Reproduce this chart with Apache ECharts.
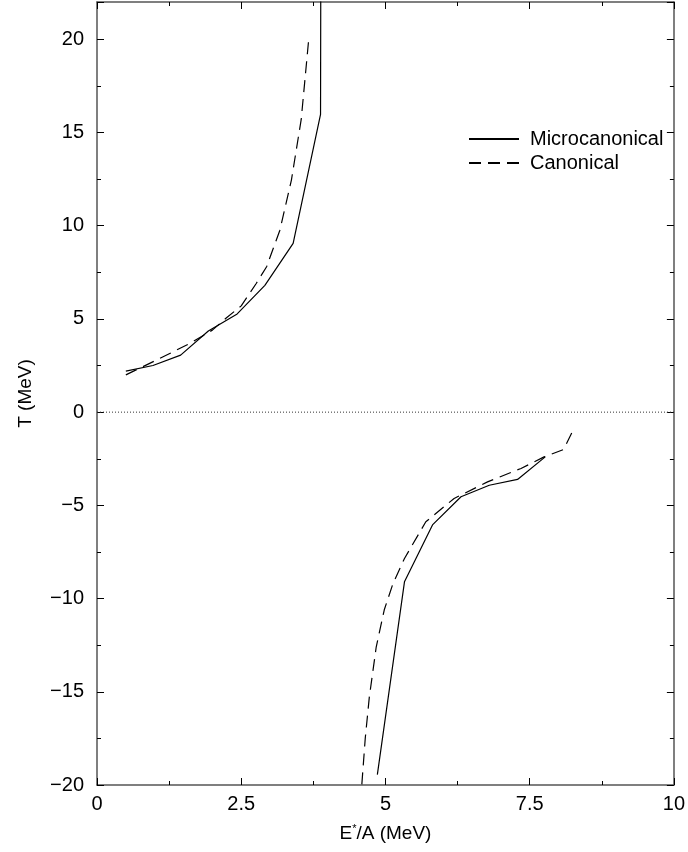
<!DOCTYPE html>
<html>
<head>
<meta charset="utf-8">
<script src="https://cdn.jsdelivr.net/npm/echarts@6/dist/echarts.min.js"></script>
<style>
    html, body { margin: 0; padding: 0; background: #fff; }
    #chart { width: 688px; height: 852px; }
</style>
</head>
<body>
<div id="chart"></div>
<script>
// 微正则 / 正则 温度曲线 (E*/A, T)
var microHigh = [[0.5, 2.2], [0.97, 2.5], [1.45, 3.06], [1.93, 4.35], [2.43, 5.27], [2.91, 6.8], [3.4, 9.05], [3.875, 15.97], [3.9, 60]];
var microLow = [[4.86, -19.44], [5.33, -9.1], [5.82, -6.03], [6.31, -4.54], [6.8, -3.92], [7.29, -3.61], [7.77, -2.4]];
var canonHigh = [[0.5, 2.0], [1.03, 2.79], [1.61, 3.69], [2.0, 4.4], [2.24, 5.05], [2.5, 5.7], [2.76, 6.9], [2.94, 7.8], [3.17, 9.76], [3.37, 12.45], [3.54, 15.7], [3.67, 20.0]];
var canonLow = [[4.55, -22], [4.59, -20], [4.65, -17.5], [4.72, -15.3], [4.84, -12.6], [4.98, -10.6], [5.13, -9.2], [5.33, -7.85], [5.7, -5.88], [6.19, -4.63], [6.77, -3.74], [7.35, -3.02], [7.75, -2.4], [8.09, -2.0], [8.24, -1.05]];
var zeroLine = [[0, 0], [10, 0]];
var xTicks = [0, 2.5, 5, 7.5, 10];
var seriesNames = ['Microcanonical', 'Canonical'];

var font = 'Liberation Sans, Arial, Helvetica, sans-serif';
var chart = echarts.init(document.getElementById('chart'));

function frameAxis(dim, pos, withLabels) {
    var ax = {
        type: 'value',
        position: pos,
        min: dim === 'x' ? 0 : -20,
        max: dim === 'x' ? 10 : 22,
        interval: dim === 'x' ? 2.5 : 5,
        splitLine: { show: false },
        axisLine: { show: true, onZero: false, lineStyle: { color: '#555', width: 1.5 } },
        axisTick: { show: true, inside: true, length: 7, lineStyle: { color: '#000', width: 1 } },
        minorTick: { show: true, splitNumber: 2, length: 4, lineStyle: { color: '#000', width: 1 } },
        axisLabel: {
            show: withLabels,
            showMaxLabel: dim === 'x',
            color: '#000',
            fontFamily: font,
            fontSize: 20,
            margin: dim === 'x' ? 9 : 13,
            formatter: function(v) {
                if (dim === 'x' && xTicks.indexOf(v) < 0) return '';
                return v < 0 ? '\u2212' + Math.abs(v) : String(v);
            }
        }
    };
    return ax;
}

var xBottom = frameAxis('x', 'bottom', true);
xBottom.name = 'E{sup|*}/A (MeV)';
xBottom.nameLocation = 'middle';
xBottom.nameGap = 38;
xBottom.nameTextStyle = {
    color: '#000', fontFamily: font, fontSize: 19,
    rich: { sup: { fontSize: 11, verticalAlign: 'top', padding: [0, 0, 10, 0], fontFamily: font, color: '#000' } }
};
var yLeft = frameAxis('y', 'left', true);
yLeft.name = 'T (MeV)';
yLeft.nameLocation = 'middle';
yLeft.nameGap = 62;
yLeft.nameTextStyle = { color: '#000', fontFamily: font, fontSize: 19 };

function lineSeries(name, data, dashed) {
    return {
        name: name,
        type: 'line',
        data: data,
        showSymbol: false,
        symbol: 'none',
        clip: true,
        silent: true,
        animation: false,
        itemStyle: { color: '#000' },
        lineStyle: { color: '#000', width: 1.2, type: dashed ? [12, 7] : 'solid' }
    };
}

var option = {
    backgroundColor: '#fff',
    animation: false,
    grid: { left: 97, right: 13, top: 2, bottom: 67 },
    legend: {
        data: seriesNames,
        orient: 'vertical',
        left: 463,
        top: 124,
        itemWidth: 50,
        itemHeight: 10,
        itemGap: 4,
        itemStyle: { opacity: 0 },
        textStyle: { color: '#000', fontFamily: font, fontSize: 20, padding: [0, 0, 0, 6] }
    },
    xAxis: [xBottom, frameAxis('x', 'top', false)],
    yAxis: [yLeft, frameAxis('y', 'right', false)],
    series: [
        lineSeries('Microcanonical', microHigh, false),
        lineSeries('Microcanonical', microLow, false),
        lineSeries('Canonical', canonHigh, true),
        lineSeries('Canonical', canonLow, true),
        {
            name: 'zero',
            type: 'line',
            data: zeroLine,
            symbol: 'none',
            silent: true,
            lineStyle: { color: '#333', width: 1, type: [1, 2] }
        }
    ]
};
chart.setOption(option);
</script>
</body>
</html>
